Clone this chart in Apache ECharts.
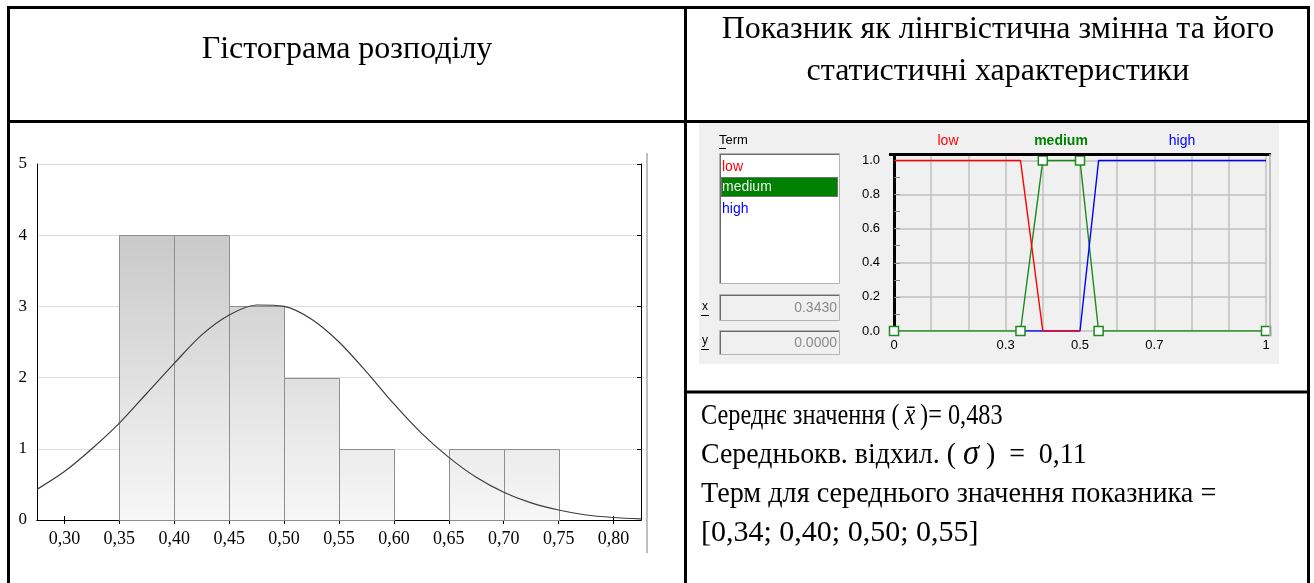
<!DOCTYPE html>
<html><head><meta charset="utf-8">
<script src="https://cdn.jsdelivr.net/npm/echarts@6/dist/echarts.min.js"></script>
<style>html,body{margin:0;padding:0;background:#fff}#c{width:1314px;height:583px}</style>
</head><body><div id="c"></div>
<script>
// ---------- histogram data ----------
const histBinEdges = [0.35, 0.40, 0.45, 0.50, 0.55, 0.60, 0.65, 0.70, 0.75];
const histCounts = [4, 4, 3, 2, 1, 0, 1, 1];
const histYTicks = [0, 1, 2, 3, 4, 5];
const histXTickValues = [0.30, 0.35, 0.40, 0.45, 0.50, 0.55, 0.60, 0.65, 0.70, 0.75, 0.80];
const histXTickLabels = ['0,30', '0,35', '0,40', '0,45', '0,50', '0,55', '0,60', '0,65', '0,70', '0,75', '0,80'];
const curveX = [0.275, 0.300, 0.325, 0.350, 0.375, 0.400, 0.425, 0.450, 0.475, 0.500, 0.525, 0.550, 0.575, 0.600, 0.625, 0.650, 0.675, 0.700, 0.725, 0.750, 0.775, 0.800, 0.825];
const curveY = [0.43, 0.68, 1.00, 1.36, 1.78, 2.20, 2.60, 2.88, 3.02, 3.00, 2.82, 2.50, 2.08, 1.63, 1.22, 0.88, 0.60, 0.39, 0.24, 0.14, 0.07, 0.035, 0.015];

// ---------- membership functions ----------
const termNames = ['low', 'medium', 'high'];
const lowX = [0, 0.34, 0.40, 0.50];
const lowY = [1, 1, 0, 0];
const mediumX = [0, 0.34, 0.40, 0.50, 0.55, 1];
const mediumY = [0, 0, 1, 1, 0, 0];
const highX = [0.34, 0.50, 0.55, 1];
const highY = [0, 0, 1, 1];
const fuzzyXTickValues = [0, 0.3, 0.5, 0.7, 1];
const fuzzyXTickLabels = ['0', '0.3', '0.5', '0.7', '1'];
const fuzzyYTickValues = [0, 0.2, 0.4, 0.6, 0.8, 1.0];
const fuzzyYTickLabels = ['0.0', '0.2', '0.4', '0.6', '0.8', '1.0'];
const readoutX = '0.3430';
const readoutY = '0.0000';

// ---------- texts ----------
const headerLeft = 'Гістограма розподілу';
const headerRight = ['Показник як лінгвістична змінна та його', 'статистичні характеристики'];
const meanValue = '0,483';
const sdValue = '0,11';
const termLine1 = 'Терм для середнього значення показника =';
const termLine2 = '[0,34; 0,40; 0,50; 0,55]';

const pairs = (xs, ys) => xs.map((x, i) => [x, ys[i]]);
const histData = histCounts.map((c, i) => [histBinEdges[i], histBinEdges[i + 1], c]);
const labelFrom = (vals, labs) => v => { const i = vals.findIndex(t => Math.abs(t - v) < 1e-9); return i >= 0 ? labs[i] : ''; };

const chart = echarts.init(document.getElementById('c'), null, {renderer: 'canvas'});
const SERIF = 'Liberation Serif';
const SANS = 'Liberation Sans';
const termColors = {low: '#ff0000', medium: '#1a8a1a', high: '#0000ff'};
const BODY = 30;

function txt(text, x, y, font, fill, align, extra) {
  return {type: 'text', silent: true, z: 12, style: Object.assign({text, x, y, font, fill, align: align || 'left', textAlign: align || 'left', verticalAlign: 'middle', textVerticalAlign: 'middle'}, extra || {})};
}
function stxt(text, x, y, sx, rich) {
  return {type: 'text', silent: true, z: 30, x: x, y: y, scaleX: sx, originX: 0, originY: 0,
    style: {text, x: 0, y: 0, font: BODY + 'px ' + SERIF, fill: '#000', align: 'left', textAlign: 'left', verticalAlign: 'middle', textVerticalAlign: 'middle', rich: rich || {}}};
}
function ln(x1, y1, x2, y2, stroke, w, z) {
  return {type: 'line', silent: true, z: z || 10, shape: {x1, y1, x2, y2}, style: {stroke, lineWidth: w}};
}
function rect(x, y, w, h, fill, stroke, z) {
  return {type: 'rect', silent: true, z: z || 0, shape: {x, y, width: w, height: h}, style: {fill, stroke: stroke || null, lineWidth: 1}};
}

const graphics = [
  // GUI panel background
  rect(699, 123, 580, 241, '#f0f0f0', null, -5),
  // list box
  rect(719.5, 153.5, 120, 130, '#ffffff', '#b4b4b4', 1),
  ln(720, 154.5, 839, 154.5, '#6a6a6a', 1, 2), ln(720.5, 154, 720.5, 283, '#6a6a6a', 1, 2),
  rect(721, 177, 117, 20, '#008000', null, 3),
  {type: 'rect', silent: true, z: 4, shape: {x: 721.5, y: 177.5, width: 116, height: 19}, style: {fill: null, stroke: '#d070d0', lineWidth: 1, lineDash: [1, 1]}},
  txt(termNames[0], 722, 167, '14px ' + SANS, termColors.low, 'left'),
  txt(termNames[1], 722, 187, '14px ' + SANS, '#f0f0f0', 'left'),
  txt(termNames[2], 722, 209, '14px ' + SANS, termColors.high, 'left'),
  txt('Term', 719, 140, '13px ' + SANS, '#000', 'left'),
  ln(719, 148.5, 726, 148.5, '#000', 1, 13),
  // readout boxes
  rect(719.5, 294.5, 120, 26, '#f0f0f0', '#b4b4b4', 1),
  ln(720, 295.5, 839, 295.5, '#6a6a6a', 1, 2), ln(720.5, 295, 720.5, 320, '#6a6a6a', 1, 2),
  rect(719.5, 330.5, 120, 24, '#f0f0f0', '#b4b4b4', 1),
  ln(720, 331.5, 839, 331.5, '#6a6a6a', 1, 2), ln(720.5, 331, 720.5, 354, '#6a6a6a', 1, 2),
  txt(readoutX, 837, 308, '14px ' + SANS, '#8a8a8a', 'right'),
  txt(readoutY, 837, 343, '14px ' + SANS, '#8a8a8a', 'right'),
  txt('x', 705, 307, '12px ' + SANS, '#000', 'center'),
  ln(701, 315.5, 709, 315.5, '#000', 1, 13),
  txt('y', 705, 341, '12px ' + SANS, '#000', 'center'),
  ln(701, 349.5, 709, 349.5, '#000', 1, 13),
  // term titles above plot
  txt(termNames[0], 948, 141, '14px ' + SANS, termColors.low, 'center'),
  txt(termNames[1], 1061, 141, 'bold 14px ' + SANS, '#008000', 'center'),
  txt(termNames[2], 1182, 141, '14px ' + SANS, termColors.high, 'center'),
  // fuzzy plot frame
  ln(889, 154.5, 1271, 154.5, '#000', 3, 20),
  ln(1270, 154, 1270, 336, '#b0b0b0', 1.5, 20),
  // statistica window edge
  ln(647, 153, 647, 553, '#a8a8a8', 1.5, 5),
  // headers
  txt(headerLeft, 347, 50, '32px ' + SERIF, '#000', 'center'),
  txt(headerRight[0], 998, 30, '32px ' + SERIF, '#000', 'center'),
  txt(headerRight[1], 998, 72, '32px ' + SERIF, '#000', 'center'),
  // statistics text
  stxt('Середнє значення ({i|x̄})= ' + meanValue, 701, 416, 0.81, {i: {font: 'italic ' + BODY + 'px ' + SERIF, fill: '#000', padding: [0, 6, 0, 6]}}),
  stxt('Середньокв. відхил. ( {s|σ} )  =  ' + sdValue, 701, 455, 0.93, {s: {font: 'italic ' + (BODY + 5) + 'px ' + SERIF, fill: '#000'}}),
  stxt(termLine1, 701, 494, 0.94),
  stxt(termLine2, 701, 533, 1.0),
  // table borders
  ln(7, 7.5, 1310, 7.5, '#000', 3, 50),
  ln(8.5, 6, 8.5, 583, '#000', 3, 50),
  ln(685.5, 6, 685.5, 583, '#000', 3, 50),
  ln(1308.5, 6, 1308.5, 583, '#000', 3, 50),
  ln(7, 121.5, 1310, 121.5, '#000', 3, 50),
  ln(685, 392, 1310, 392, '#000', 3, 50)
];

const option = {
  animation: false,
  backgroundColor: '#ffffff',
  grid: [
    {left: 37, top: 164, width: 604, height: 356, containLabel: false},
    {left: 894, top: 155, width: 372, height: 176, containLabel: false}
  ],
  xAxis: [
    {type: 'value', gridIndex: 0, min: 0.275, max: 0.825, position: 'bottom',
      axisLine: {lineStyle: {color: '#000', width: 1}},
      axisTick: {inside: true, length: 4, customValues: histXTickValues, lineStyle: {color: '#000'}},
      axisLabel: {customValues: histXTickValues, formatter: labelFrom(histXTickValues, histXTickLabels), margin: 10, fontFamily: SERIF, fontSize: 18, color: '#000'},
      splitLine: {show: false}},
    {type: 'value', gridIndex: 0, min: 0.275, max: 0.825, position: 'top',
      axisLine: {lineStyle: {color: '#000', width: 1}},
      axisTick: {inside: true, length: 4, customValues: histXTickValues, lineStyle: {color: '#000'}},
      axisLabel: {show: false}, splitLine: {show: false}},
    {type: 'value', gridIndex: 1, min: 0, max: 1, interval: 0.1,
      axisLine: {show: false}, axisTick: {show: false},
      axisLabel: {customValues: fuzzyXTickValues, formatter: labelFrom(fuzzyXTickValues, fuzzyXTickLabels), margin: 8, fontFamily: SANS, fontSize: 13, color: '#000'},
      splitLine: {show: true, lineStyle: {color: '#c0c0c0', width: 1.5}}}
  ],
  yAxis: [
    {type: 'value', gridIndex: 0, min: 0, max: 5, interval: 1, position: 'left',
      axisLine: {show: true, lineStyle: {color: '#000', width: 1}},
      axisTick: {show: false},
      axisLabel: {formatter: labelFrom(histYTicks, histYTicks.map(String)), margin: 10, fontFamily: SERIF, fontSize: 17, color: '#000'},
      splitLine: {show: true, lineStyle: {color: '#dcdcdc', width: 1}}},
    {type: 'value', gridIndex: 0, min: 0, max: 5, interval: 1, position: 'right',
      axisLine: {show: true, lineStyle: {color: '#000', width: 1}},
      axisTick: {show: true, inside: true, length: 4, lineStyle: {color: '#000'}},
      axisLabel: {show: false}, splitLine: {show: false}},
    {type: 'value', gridIndex: 1, min: 0, max: 1.032, interval: 0.2, offset: 4,
      axisLine: {show: true, lineStyle: {color: '#000', width: 3}},
      axisTick: {show: true, inside: true, length: 6, lineStyle: {color: '#909090'}},
      minorTick: {show: true, splitNumber: 2, length: 6, lineStyle: {color: '#808080'}},
      axisLabel: {customValues: fuzzyYTickValues, formatter: labelFrom(fuzzyYTickValues, fuzzyYTickLabels), margin: 10, fontFamily: SANS, fontSize: 13, color: '#000'},
      splitLine: {show: true, lineStyle: {color: '#c0c0c0', width: 1.5}}}
  ],
  series: [
    {type: 'custom', xAxisIndex: 0, yAxisIndex: 0, data: histData, z: 2,
      renderItem: function (params, api) {
        const x0 = api.value(0), x1 = api.value(1), c = api.value(2);
        if (!c) return null;
        const pTop = api.coord([x0, c]);
        const pBot = api.coord([x1, 0]);
        const gTop = api.coord([x0, histYTicks[histYTicks.length - 1]])[1];
        return {type: 'rect',
          shape: {x: Math.round(pTop[0]) + 0.5, y: Math.round(pTop[1]) + 0.5, width: Math.round(pBot[0]) - Math.round(pTop[0]), height: Math.round(pBot[1]) - Math.round(pTop[1])},
          style: {fill: new echarts.graphic.LinearGradient(0, gTop, 0, pBot[1], [{offset: 0, color: '#bebebe'}, {offset: 1, color: '#f7f7f7'}], true),
            stroke: '#8e8e8e', lineWidth: 1}};
      }},
    {type: 'line', xAxisIndex: 0, yAxisIndex: 0, data: pairs(curveX, curveY), smooth: 0.3, showSymbol: false, z: 4,
      lineStyle: {color: '#3c3c3c', width: 1.2}},
    {type: 'line', name: 'medium', xAxisIndex: 2, yAxisIndex: 2, data: pairs(mediumX, mediumY), showSymbol: false, z: 3,
      lineStyle: {color: termColors.medium, width: 1.4}},
    {type: 'line', name: 'high', xAxisIndex: 2, yAxisIndex: 2, data: pairs(highX, highY), showSymbol: false, z: 4,
      lineStyle: {color: termColors.high, width: 1.4}},
    {type: 'line', name: 'low', xAxisIndex: 2, yAxisIndex: 2, data: pairs(lowX, lowY), showSymbol: false, z: 5,
      lineStyle: {color: termColors.low, width: 1.4}},
    {type: 'scatter', xAxisIndex: 2, yAxisIndex: 2, data: pairs(mediumX, mediumY), symbol: 'rect', symbolSize: 9, z: 8,
      itemStyle: {color: '#ffffff', borderColor: '#1a8a1a', borderWidth: 1.5, opacity: 1}}
  ],
  graphic: graphics
};
chart.setOption(option);
</script>
</body></html>
